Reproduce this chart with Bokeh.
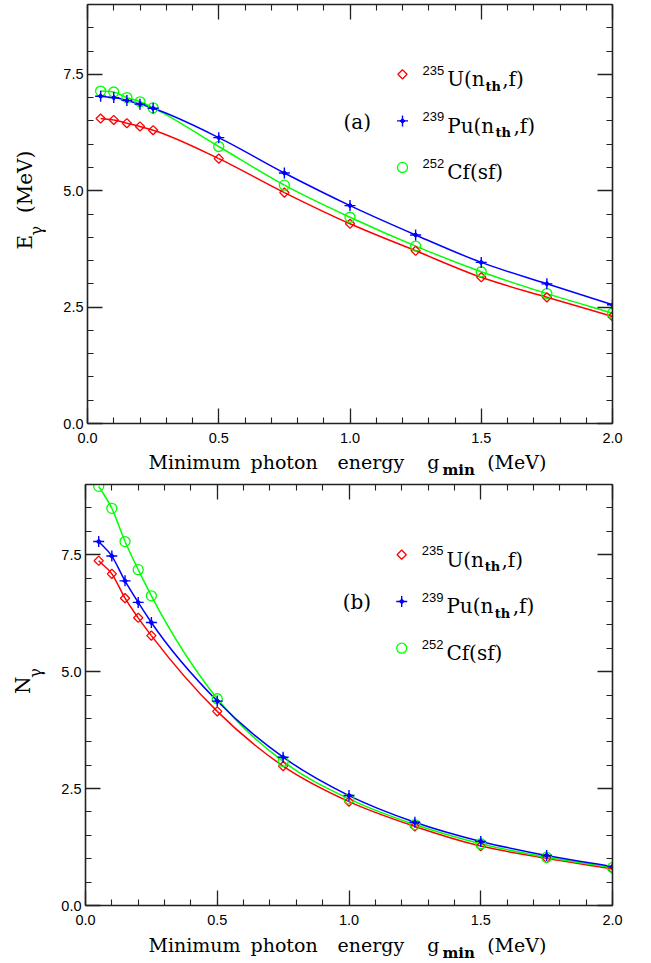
import math
from bokeh.plotting import figure
from bokeh.models import Range1d, FixedTicker, LinearAxis, Label
from bokeh.layouts import column, row
from bokeh.embed import file_html
from bokeh.resources import INLINE

# ---------------- data ----------------
g_min = [0.05, 0.10, 0.15, 0.20, 0.25, 0.50, 0.75, 1.00, 1.25, 1.50, 1.75, 2.00]

E_U235 = [6.55, 6.52, 6.45, 6.38, 6.30, 5.69, 4.96, 4.29, 3.71, 3.14, 2.71, 2.30]
E_Pu239 = [7.03, 7.00, 6.94, 6.86, 6.77, 6.14, 5.38, 4.68, 4.05, 3.46, 3.00, 2.55]
E_Cf252 = [7.14, 7.12, 7.00, 6.91, 6.78, 5.95, 5.12, 4.43, 3.81, 3.26, 2.79, 2.37]

N_U235 = [7.37, 7.09, 6.57, 6.15, 5.77, 4.15, 2.98, 2.22, 1.69, 1.27, 1.01, 0.78]
N_Pu239 = [7.78, 7.47, 6.94, 6.48, 6.05, 4.37, 3.17, 2.35, 1.78, 1.37, 1.07, 0.83]
N_Cf252 = [8.96, 8.49, 7.78, 7.18, 6.62, 4.42, 3.08, 2.28, 1.73, 1.32, 1.03, 0.81]

x_ticks = [0.0, 0.5, 1.0, 1.5, 2.0]
x_tick_labels = ["0.0", "0.5", "1.0", "1.5", "2.0"]
y_ticks = [0.0, 2.5, 5.0, 7.5]
y_tick_labels = ["0.0", "2.5", "5.0", "7.5"]
x_minor = [round(0.1 * i, 2) for i in range(21)]
y_minor = [round(0.5 * i, 2) for i in range(19)]

legend_x = 1.2
legend_y = [7.5, 6.5, 5.5]

RED = "#ff0000"
BLUE = "#0000ff"
GREEN = "#00ff00"
AXIS = "#222222"
SERIF = "DejaVu Serif"
SANS = "Liberation Sans"


def slopes(xs, ys):
    n = len(xs)
    m = [0.0] * n
    for i in range(n):
        if i == 0:
            m[i] = (ys[1] - ys[0]) / (xs[1] - xs[0])
        elif i == n - 1:
            m[i] = (ys[-1] - ys[-2]) / (xs[-1] - xs[-2])
        else:
            h0 = xs[i] - xs[i - 1]
            h1 = xs[i + 1] - xs[i]
            d0 = (ys[i] - ys[i - 1]) / h0
            d1 = (ys[i + 1] - ys[i]) / h1
            m[i] = (h1 * d0 + h0 * d1) / (h0 + h1)
    return m


def smooth_curve(p, xs, ys, color):
    m = slopes(xs, ys)
    x0, y0, x1, y1, cx0, cy0, cx1, cy1 = [], [], [], [], [], [], [], []
    for i in range(len(xs) - 1):
        h = xs[i + 1] - xs[i]
        x0.append(xs[i]); y0.append(ys[i])
        x1.append(xs[i + 1]); y1.append(ys[i + 1])
        cx0.append(xs[i] + h / 3); cy0.append(ys[i] + m[i] * h / 3)
        cx1.append(xs[i + 1] - h / 3); cy1.append(ys[i + 1] - m[i + 1] * h / 3)
    p.bezier(x0=x0, y0=y0, x1=x1, y1=y1, cx0=cx0, cy0=cy0, cx1=cx1, cy1=cy1,
             line_color=color, line_width=1.5)


def marker_u(p, xs, ys):
    p.scatter(xs, ys, marker="square", angle=math.pi / 4, size=6.5,
              fill_color=None, line_color=RED, line_width=1.3)


def marker_pu(p, xs, ys):
    p.scatter(xs, ys, marker="cross", size=11, line_color=BLUE, line_width=1.4)
    p.scatter(xs, ys, marker="square", angle=math.pi / 4, size=3.5,
              fill_color=BLUE, line_color=BLUE, line_width=1)


def marker_cf(p, xs, ys):
    p.scatter(xs, ys, marker="circle", size=10, fill_color=None,
              line_color=GREEN, line_width=1.3)


def style_axis(ax, labels):
    ax.axis_line_color = AXIS
    ax.axis_line_width = 1.6
    ax.major_tick_line_color = AXIS
    ax.minor_tick_line_color = AXIS
    ax.major_tick_line_width = 1.3
    ax.minor_tick_line_width = 1.1
    ax.major_tick_in = 15
    ax.major_tick_out = 0
    ax.minor_tick_in = 6
    ax.minor_tick_out = 0
    ax.major_label_text_font = SANS
    ax.major_label_text_font_size = "14.5px"
    ax.major_label_text_color = "black"
    ax.major_label_overrides = labels


def label(p, text, x, y, dx=0, dy=0, font=SERIF, size="19px", style="normal",
          angle=0.0, align="left"):
    p.add_layout(Label(x=x, y=y, x_offset=dx, y_offset=dy, text=text,
                       text_font=font, text_font_size=size, text_font_style=style,
                       text_color="black", text_align=align,
                       text_baseline="middle", angle=angle))


def make_panel(width, height, left, bottom, series, tag):
    p = figure(width=width, height=height, x_range=Range1d(0, 2), y_range=Range1d(0, 9),
               output_backend="svg", toolbar_location=None,
               x_axis_type=None, y_axis_type=None,
               min_border_left=left, min_border_right=39,
               min_border_top=4, min_border_bottom=bottom)
    p.outline_line_color = None
    p.background_fill_color = "white"
    p.border_fill_color = "white"

    xl = dict(zip(x_ticks, x_tick_labels))
    yl = dict(zip(y_ticks, y_tick_labels))
    blank_x = {t: "" for t in x_ticks}
    blank_y = {t: "" for t in y_ticks}
    for loc in ("below", "above"):
        ax = LinearAxis(ticker=FixedTicker(ticks=x_ticks, minor_ticks=x_minor))
        style_axis(ax, xl if loc == "below" else blank_x)
        ax.major_label_standoff = 9 if loc == "below" else 0
        p.add_layout(ax, loc)
    for loc in ("left", "right"):
        ax = LinearAxis(ticker=FixedTicker(ticks=y_ticks, minor_ticks=y_minor))
        style_axis(ax, yl if loc == "left" else blank_y)
        ax.major_label_standoff = 4 if loc == "left" else 0
        p.add_layout(ax, loc)

    u, pu, cf = series
    smooth_curve(p, g_min, u, RED)
    smooth_curve(p, g_min, cf, GREEN)
    smooth_curve(p, g_min, pu, BLUE)
    marker_u(p, g_min, u)
    marker_cf(p, g_min, cf)
    marker_pu(p, g_min, pu)

    # legend
    marker_u(p, [legend_x], [legend_y[0]])
    marker_pu(p, [legend_x], [legend_y[1]])
    marker_cf(p, [legend_x], [legend_y[2]])
    rows = [
        [("235", 20, 4, SANS, "13px", "normal"), ("U(n", 44.7, -5, SERIF, "20px", "normal"),
         ("th", 83, -12, SERIF, "13px", "bold"), (",f)", 99.7, -5, SERIF, "20px", "normal")],
        [("239", 20, 4, SANS, "13px", "normal"), ("Pu(n", 44.7, -5, SERIF, "20px", "normal"),
         ("th", 93, -12, SERIF, "13px", "bold"), (",f)", 111, -5, SERIF, "20px", "normal")],
        [("252", 20, 4, SANS, "13px", "normal"), ("Cf(sf)", 44.7, -5, SERIF, "20px", "normal")],
    ]
    for ly, pieces in zip(legend_y, rows):
        for text, dx, dy, font, size, style in pieces:
            label(p, text, legend_x, ly, dx, dy, font, size, style)
    label(p, tag, legend_x, legend_y[1], -59, -1, SERIF, "20px")
    return p


def strip(width, height):
    s = figure(width=width, height=height, x_range=Range1d(0, width), y_range=Range1d(0, height),
               output_backend="svg", toolbar_location=None,
               x_axis_type=None, y_axis_type=None,
               min_border_left=0, min_border_right=0, min_border_top=0, min_border_bottom=0)
    s.outline_line_color = None
    s.background_fill_color = "white"
    s.border_fill_color = "white"
    return s


def x_title(height, main_y, sub_y):
    s = strip(651, height)
    words = [("Minimum", 148, main_y, "19px", "normal"), ("photon", 250, main_y, "19px", "normal"),
             ("energy", 337, main_y, "19px", "normal"), ("g", 426.7, main_y, "19px", "normal"),
             ("min", 442, sub_y, "15px", "bold"), ("(MeV)", 486.7, main_y, "19px", "normal")]
    for text, px, py, size, style in words:
        label(s, text, px, py, 0, 0, SERIF, size, style)
    return s


def y_title(height, pieces):
    s = strip(46, height)
    for text, px, py, size in pieces:
        label(s, text, px, py, 0, 0, SERIF, size, "normal", angle=math.pi / 2)
    return s


p1 = make_panel(605, 450, 41, 27, (E_U235, E_Pu239, E_Cf252), "(a)")
p2 = make_panel(605, 452, 39, 27, (N_U235, N_Pu239, N_Cf252), "(b)")

yt1 = y_title(450, [("E", 24.5, 187, "20px"), ("\u03b3", 35.5, 202, "16px"), ("(MeV)", 24.5, 226, "20px")])
yt2 = y_title(452, [("N", 22.5, 227, "20px"), ("\u03b3", 35, 244.5, "16px")])
xt1 = x_title(30, 18.5, 10.3)
xt2 = x_title(31, 19, 10.6)

layout = column(row(yt1, p1), xt1, row(yt2, p2), xt2)
open("out.html", "w").write(file_html(layout, INLINE))
